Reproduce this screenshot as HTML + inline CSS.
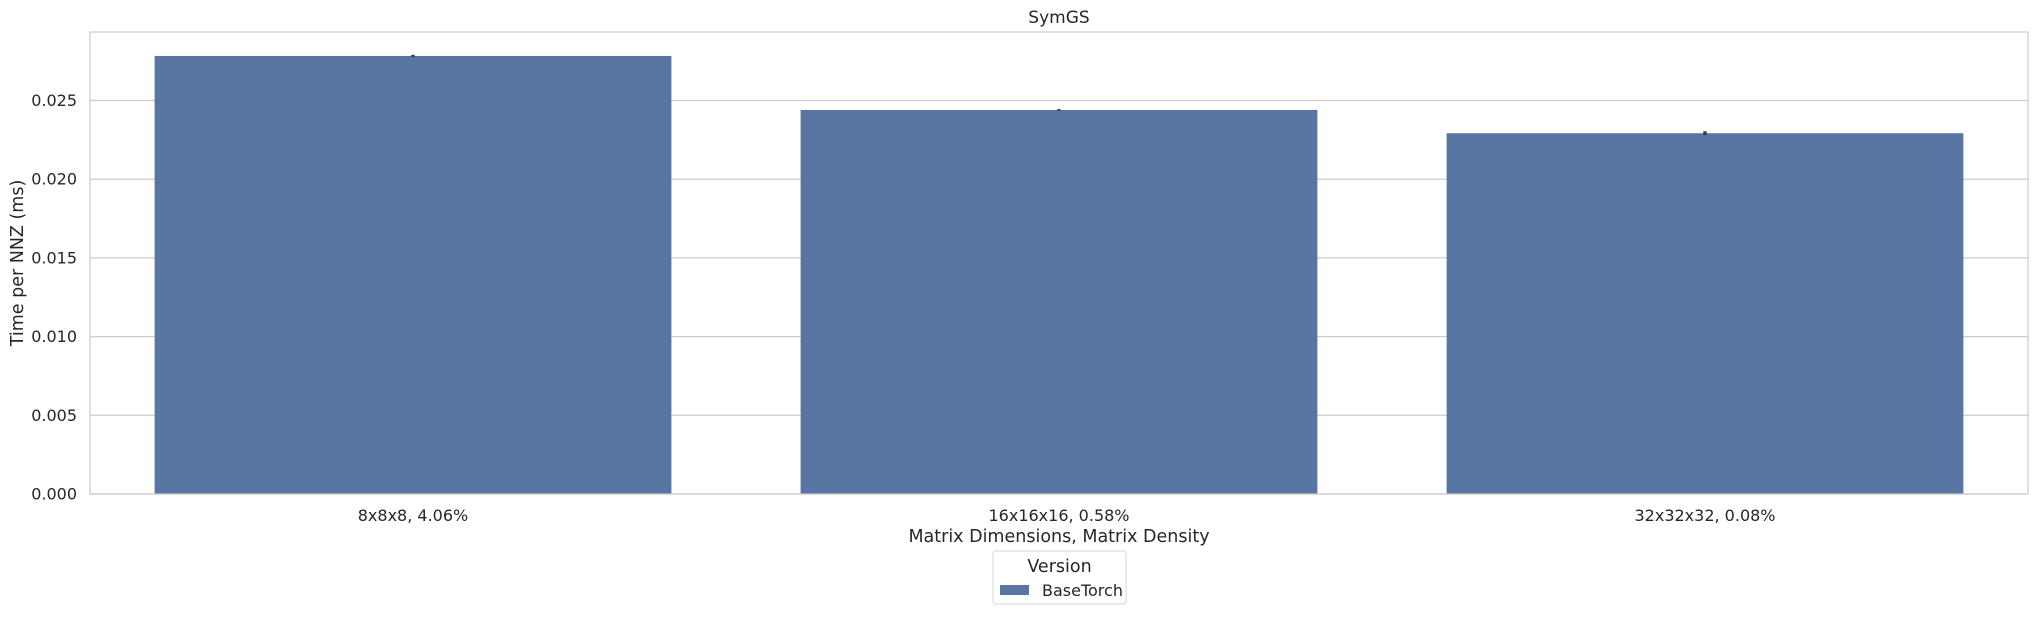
<!DOCTYPE html>
<html><head><meta charset="utf-8"><style>
body{margin:0;background:#fff}
svg text{font-family:"DejaVu Sans","Liberation Sans",sans-serif;fill:#262626}
</style></head><body>
<svg id="chart" width="2037" height="614" xmlns="http://www.w3.org/2000/svg">
<text x="1059" y="23" font-size="17" text-anchor="middle">SymGS</text>
<g id="grid"></g>
<g id="bars"></g>
<rect x="90" y="32" width="1938" height="462" fill="none" stroke="#cccccc" stroke-width="1.25"/>
<g id="yticks"></g>
<g id="xticks"></g>
<text transform="translate(23,263) rotate(-90)" font-size="17.5" text-anchor="middle">Time per NNZ (ms)</text>
<text x="1059" y="542" font-size="17.5" text-anchor="middle">Matrix Dimensions, Matrix Density</text>
<g>
<rect x="993" y="551" width="133" height="53" rx="3" fill="#fff" stroke="#d6d6d6"/>
<text x="1059.5" y="572" font-size="17.5" text-anchor="middle">Version</text>
<rect x="1000" y="585" width="29" height="10" fill="#5875a4"/>
<text x="1042" y="596" font-size="16">BaseTorch</text>
</g>
</svg>
<script>
const categories=["8x8x8, 4.06%","16x16x16, 0.58%","32x32x32, 0.08%"];
const values=[0.02783,0.02440,0.02292];
const errors=[0.00007,0.00005,0.00012];
const yTicks=[0,0.005,0.010,0.015,0.020,0.025];
const yTickLabels=["0.000","0.005","0.010","0.015","0.020","0.025"];
const NS="http://www.w3.org/2000/svg";
const L=90,R=2028,T=32,B=494;
const band=(R-L)/categories.length;
const y=v=>B-v*15740;
const xc=i=>L+band*(i+0.5);
function mk(tag,attrs,parent){const e=document.createElementNS(NS,tag);for(const k in attrs)e.setAttribute(k,attrs[k]);parent.appendChild(e);return e;}
const grid=document.getElementById('grid'),bars=document.getElementById('bars'),yt=document.getElementById('yticks'),xt=document.getElementById('xticks');
yTicks.forEach((t,i)=>{
 const g=mk('line',{x1:L,x2:R,y1:y(t),y2:y(t),stroke:'#cccccc','stroke-width':1.25},grid);
 
 
 const tx=mk('text',{x:L-13,y:y(t)+5.5,'font-size':16,'text-anchor':'end'},yt);
 tx.textContent=yTickLabels[i];
 
 
});
categories.forEach((c,i)=>{
 const w=band*0.8;
 const r=mk('rect',{x:xc(i)-w/2,y:y(values[i]),width:w,height:B-y(values[i]),fill:'#5875a4'},bars);
 
 
 const e=mk('line',{x1:xc(i),x2:xc(i),y1:y(values[i]+errors[i]),y2:y(values[i]-errors[i]),stroke:'#3d3d3d','stroke-width':3.5},bars);
 
 
 const tx=mk('text',{x:xc(i),y:521,'font-size':16,'text-anchor':'middle'},xt);
 tx.textContent=c;
 
 
});
</script>
</body></html>
